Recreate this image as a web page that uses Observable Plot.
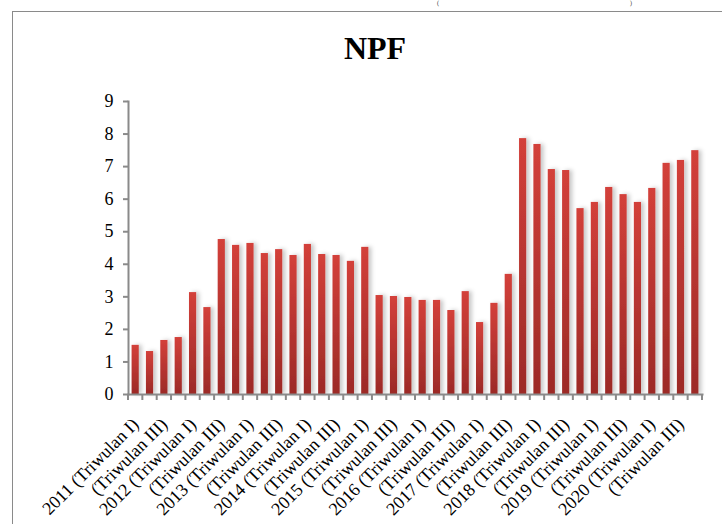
<!DOCTYPE html>
<html><head><meta charset="utf-8">
<script src="https://cdn.jsdelivr.net/npm/d3@7"></script>
<script src="https://cdn.jsdelivr.net/npm/@observablehq/plot@0.6"></script>
<style>
body{margin:0;background:#fff;}
#wrap{position:relative;width:722px;height:524px;overflow:hidden;font-family:"Liberation Serif","Times New Roman",serif;background:#fff;}
#frame{position:absolute;left:12px;top:11px;width:760px;height:600px;border:1.5px solid #8a8a8a;box-sizing:border-box;}
#title{position:absolute;left:0;width:750px;top:30px;text-align:center;font-weight:bold;font-size:32px;line-height:36px;}
#chart{position:absolute;left:0;top:0;}
.cut{position:absolute;top:0px;font-size:6px;line-height:6px;color:#333;}
</style></head><body>
<div id="wrap">
<span class="cut" style="left:437px">(</span><span class="cut" style="left:630px">)</span>
<div id="frame"></div>
<div id="chart"></div>
<div id="title">NPF</div>
</div>
<script>
const years = [2011, 2012, 2013, 2014, 2015, 2016, 2017, 2018, 2019, 2020];
const quarters = ["Triwulan I", "Triwulan II", "Triwulan III", "Triwulan IV"];
const npf = [
  1.51, 1.32, 1.66, 1.75,
  3.13, 2.67, 4.76, 4.58,
  4.64, 4.33, 4.45, 4.27,
  4.61, 4.30, 4.27, 4.09,
  4.52, 3.04, 3.01, 2.98,
  2.89, 2.89, 2.58, 3.16,
  2.21, 2.80, 3.69, 7.86,
  7.68, 6.91, 6.88, 5.71,
  5.90, 6.36, 6.14, 5.90,
  6.33, 7.10, 7.19, 7.49
];
const yTicks = [0, 1, 2, 3, 4, 5, 6, 7, 8, 9];

const cats = [];
const tickText = new Map();
years.forEach(y => quarters.forEach((q, qi) => {
  const key = `${y} (${q})`;
  cats.push(key);
  tickText.set(key, qi === 0 ? `${y} (${q})` : qi === 2 ? `(${q})` : "");
}));
const data = cats.map((c, i) => ({cat: c, value: npf[i]}));

function boundaryTicks(index, scales, values, dimensions) {
  const x = scales.x, y = scales.y;
  const step = x(cats[1]) - x(cats[0]);
  const y0 = y(0);
  const g = d3.create("svg:g").attr("stroke", "#8a8a8a").attr("stroke-width", 2);
  const xs = cats.map(c => x(c) - step * 0.25);
  xs.push(x(cats[cats.length - 1]) + step * 0.75);
  for (const xv of xs) {
    g.append("line").attr("x1", xv).attr("x2", xv).attr("y1", y0).attr("y2", y0 + 6);
  }
  return g.node();
}

const chart = Plot.plot({
  width: 722,
  height: 524,
  marginLeft: 128,
  marginRight: 20,
  marginTop: 101,
  marginBottom: 130,
  style: {fontFamily: "'Liberation Serif','Times New Roman',serif", background: "transparent", color: "#000"},
  x: {domain: cats, paddingInner: 0.5, paddingOuter: 0.25, round: false},
  y: {domain: [0, 9]},
  marks: [
    Plot.barY(data, {x: "cat", y: "value", fill: "#c0392b"}),
    Plot.axisY({ticks: yTicks, tickSize: 5, tickPadding: 10, fontSize: 18, stroke: "#8a8a8a", strokeWidth: 2, label: null, fill: "#000"}),
    Plot.axisX({tickSize: 0, tickPadding: 27, tickRotate: -45, fontSize: 18, label: null, fill: "#000", tickFormat: d => tickText.get(d)}),
    Plot.frame({anchor: "left", stroke: "#8a8a8a", strokeWidth: 2}),
    Plot.frame({anchor: "bottom", stroke: "#8a8a8a", strokeWidth: 2}),
    boundaryTicks
  ]
});

const svg = d3.select(chart);
const defs = svg.insert("defs", ":first-child");
const grad = defs.append("linearGradient").attr("id", "npfGrad").attr("x1", 0).attr("y1", 0).attr("x2", 0).attr("y2", 1);
grad.append("stop").attr("offset", "0%").attr("stop-color", "#d3403a");
grad.append("stop").attr("offset", "100%").attr("stop-color", "#9c2a27");
const filt = defs.append("filter").attr("id", "npfShadow").attr("x", "-50%").attr("y", "-10%").attr("width", "200%").attr("height", "120%");
filt.append("feDropShadow").attr("dx", 3).attr("dy", 0).attr("stdDeviation", 2).attr("flood-color", "#000").attr("flood-opacity", 0.22);
svg.selectAll('g[aria-label="bar"]').attr("fill", "url(#npfGrad)").attr("filter", "url(#npfShadow)");

document.getElementById("chart").appendChild(chart);
</script>
</body></html>
